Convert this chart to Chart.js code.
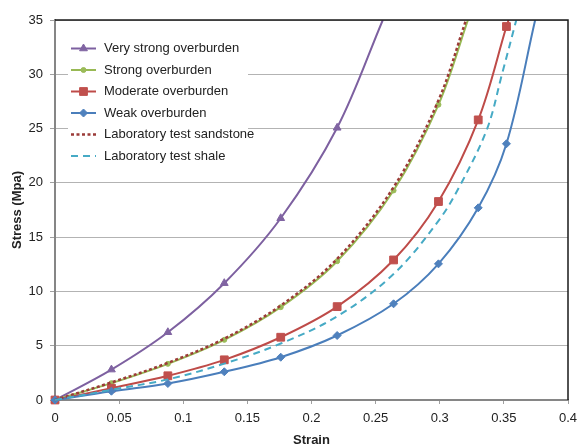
<!DOCTYPE html>
<html>
<head>
<meta charset="utf-8">
<script src="https://cdn.jsdelivr.net/npm/chart.js@4.4.1/dist/chart.umd.min.js"></script>
<style>
  html, body { margin: 0; padding: 0; background: #fff; }
  #wrap { width: 579px; height: 447px; }
</style>
</head>
<body>
<div id="wrap"><canvas id="c" width="579" height="447"></canvas></div>
<script>
// ---- Data ----
const seriesNames = ['Very strong overburden', 'Strong overburden', 'Moderate overburden',
  'Weak overburden', 'Laboratory test sandstone', 'Laboratory test shale'];

const veryStrongX = [0, 0.044, 0.088, 0.132, 0.176, 0.22, 0.2556];
const veryStrongY = [0, 2.8, 6.24, 10.76, 16.74, 25.07, 35];

const strongX = [0, 0.044, 0.088, 0.132, 0.176, 0.22, 0.264, 0.299, 0.322];
const strongY = [0, 1.55, 3.33, 5.54, 8.55, 12.78, 19.3, 27.2, 35];

const moderateX = [0, 0.044, 0.088, 0.132, 0.176, 0.22, 0.264, 0.299, 0.330, 0.352, 0.3537];
const moderateY = [0, 1.09, 2.23, 3.7, 5.78, 8.6, 12.9, 18.28, 25.8, 34.4, 35];

const weakX = [0, 0.044, 0.088, 0.132, 0.176, 0.22, 0.264, 0.299, 0.330, 0.352, 0.3744];
const weakY = [0, 0.81, 1.52, 2.6, 3.94, 5.94, 8.86, 12.54, 17.7, 23.6, 35];

const sandstoneX = [0, 0.044, 0.088, 0.132, 0.176, 0.22, 0.264, 0.299, 0.3205];
const sandstoneY = [0, 1.62, 3.42, 5.65, 8.7, 13.0, 19.6, 27.6, 35];

const shaleX = [0, 0.044, 0.088, 0.132, 0.176, 0.22, 0.264, 0.299, 0.316, 0.337, 0.3485, 0.3597];
const shaleY = [0, 0.94, 1.9, 3.35, 5.2, 7.7, 11.6, 16.5, 19.8, 25.0, 30, 35];

const xTickLabels = ['0', '0.05', '0.1', '0.15', '0.2', '0.25', '0.3', '0.35', '0.4'];
const yTickLabels = ['0', '5', '10', '15', '20', '25', '30', '35'];

// ---- Styles ----
const FONT = "'Liberation Sans', Arial, sans-serif";
const TEXT = '#222222';

function pts(xs, ys) { return xs.map((x, i) => ({ x: x, y: ys[i] })); }

// radius array: hide the marker on the last (curve exit) point
function radii(xs, r, hideLast) {
  return xs.map((_, i) => (hideLast && i === xs.length - 1) ? 0 : r);
}

const styles = [
  { color: '#7D60A0', fill: '#8064A2', pointStyle: 'triangle', r: 4.5, dash: [], width: 2 },
  { color: '#98B954', fill: '#9BBB59', pointStyle: 'circle', r: 2.5, dash: [], width: 2 },
  { color: '#BE4B48', fill: '#C0504D', pointStyle: 'rect', r: 5.5, dash: [], width: 2 },
  { color: '#4A7EBB', fill: '#4F81BD', pointStyle: 'rectRot', r: 4, dash: [], width: 2 },
  { color: '#9B3B38', fill: '#9B3B38', pointStyle: false, r: 0, dash: [3, 2.5], width: 2.5 },
  { color: '#46AAC5', fill: '#46AAC5', pointStyle: false, r: 0, dash: [7, 5], width: 2 }
];

const xsList = [veryStrongX, strongX, moderateX, weakX, sandstoneX, shaleX];
const ysList = [veryStrongY, strongY, moderateY, weakY, sandstoneY, shaleY];

const datasets = seriesNames.map((name, i) => {
  const s = styles[i];
  return {
    label: name,
    data: pts(xsList[i], ysList[i]),
    borderColor: s.color,
    backgroundColor: s.fill,
    borderWidth: s.width,
    borderDash: s.dash,
    tension: 0.35,
    pointStyle: s.pointStyle || 'circle',
    pointRadius: radii(xsList[i], s.r, true),
    pointBackgroundColor: s.fill,
    pointBorderColor: s.fill,
    pointBorderWidth: 1,
    pointHoverRadius: 0,
    fill: false,
    order: 6 - i,
    clip: { left: 8, top: 0, right: 0, bottom: 8 }
  };
});

// ---- Plugins ----
function drawMarker(ctx, style, r, x, y, color) {
  ctx.save();
  ctx.fillStyle = color;
  ctx.strokeStyle = color;
  ctx.setLineDash([]);
  ctx.lineWidth = 1;
  ctx.beginPath();
  if (style === 'triangle') {
    ctx.moveTo(x, y - r);
    ctx.lineTo(x + r * 0.866, y + r * 0.5);
    ctx.lineTo(x - r * 0.866, y + r * 0.5);
    ctx.closePath();
  } else if (style === 'circle') {
    ctx.arc(x, y, r, 0, Math.PI * 2);
  } else if (style === 'rect') {
    const s = r * Math.SQRT1_2;
    ctx.rect(x - s, y - s, 2 * s, 2 * s);
  } else if (style === 'rectRot') {
    ctx.moveTo(x, y - r);
    ctx.lineTo(x + r, y);
    ctx.lineTo(x, y + r);
    ctx.lineTo(x - r, y);
    ctx.closePath();
  }
  ctx.fill();
  ctx.stroke();
  ctx.restore();
}

const insideLegend = {
  id: 'insideLegend',
  afterDatasetsDraw(chart) {
    const ctx = chart.ctx;
    const a = chart.chartArea;
    const boxL = a.left + 13, boxT = a.top + 16, boxW = 180, boxH = 134;
    ctx.save();
    ctx.fillStyle = '#ffffff';
    ctx.fillRect(boxL, boxT, boxW, boxH);
    ctx.font = '13px ' + FONT;
    ctx.textBaseline = 'middle';
    ctx.textAlign = 'left';
    seriesNames.forEach((name, i) => {
      const s = styles[i];
      const y = a.top + 28.5 + i * 21.5;
      const x0 = a.left + 16, x1 = a.left + 41;
      ctx.save();
      ctx.strokeStyle = s.color;
      ctx.lineWidth = s.width;
      ctx.setLineDash(s.dash);
      ctx.beginPath();
      ctx.moveTo(x0, y);
      ctx.lineTo(x1, y);
      ctx.stroke();
      ctx.restore();
      if (s.pointStyle) drawMarker(ctx, s.pointStyle, s.r, (x0 + x1) / 2, y, s.fill);
      ctx.fillStyle = TEXT;
      ctx.fillText(name, a.left + 49, y);
    });
    ctx.restore();
  }
};

const frame = {
  id: 'frame',
  afterDraw(chart) {
    const ctx = chart.ctx;
    const a = chart.chartArea;
    ctx.save();
    ctx.strokeStyle = '#1a1a1a';
    ctx.lineWidth = 1.5;
    ctx.beginPath();
    ctx.moveTo(a.left, a.top);
    ctx.lineTo(a.right, a.top);
    ctx.lineTo(a.right, a.bottom);
    ctx.stroke();
    ctx.restore();
  }
};

// ---- Chart ----
new Chart(document.getElementById('c'), {
  type: 'line',
  data: { datasets: datasets },
  options: {
    responsive: false,
    animation: false,
    devicePixelRatio: 1,
    layout: { padding: { left: 0, right: 11, top: 20, bottom: 0 } },
    plugins: {
      legend: { display: false },
      tooltip: { enabled: false },
      title: { display: false }
    },
    scales: {
      x: {
        type: 'linear',
        min: 0, max: 0.4,
        afterFit(scale) { scale.height = 47; scale.paddingLeft = 0; scale.paddingRight = 0; },
        ticks: {
          stepSize: 0.05,
          autoSkip: false,
          maxRotation: 0,
          padding: 7,
          color: TEXT,
          font: { family: FONT, size: 13 },
          callback: (v, i) => xTickLabels[i]
        },
        grid: { drawOnChartArea: false, drawTicks: true, tickLength: 4, color: '#a0a0a0', lineWidth: 1 },
        border: { display: true, color: '#868686', width: 2 },
        title: {
          display: true, text: 'Strain', color: TEXT,
          font: { family: FONT, size: 13, weight: 'bold', lineHeight: 1.0 },
          padding: { top: 0, bottom: 0 }
        }
      },
      y: {
        min: 0, max: 35,
        afterFit(scale) { scale.width = 55; scale.paddingTop = 0; scale.paddingBottom = 0; },
        ticks: {
          stepSize: 5,
          padding: 7,
          color: TEXT,
          font: { family: FONT, size: 13 },
          callback: (v, i) => yTickLabels[i]
        },
        grid: { drawTicks: true, tickLength: 5, color: '#b3b3b3', tickColor: '#a0a0a0', lineWidth: 1 },
        border: { display: true, color: '#868686', width: 2 },
        title: {
          display: true, text: 'Stress (Mpa)', color: TEXT,
          font: { family: FONT, size: 13, weight: 'bold' },
          padding: { top: 10, bottom: 0 }
        }
      }
    }
  },
  plugins: [insideLegend, frame]
});
</script>
</body>
</html>
